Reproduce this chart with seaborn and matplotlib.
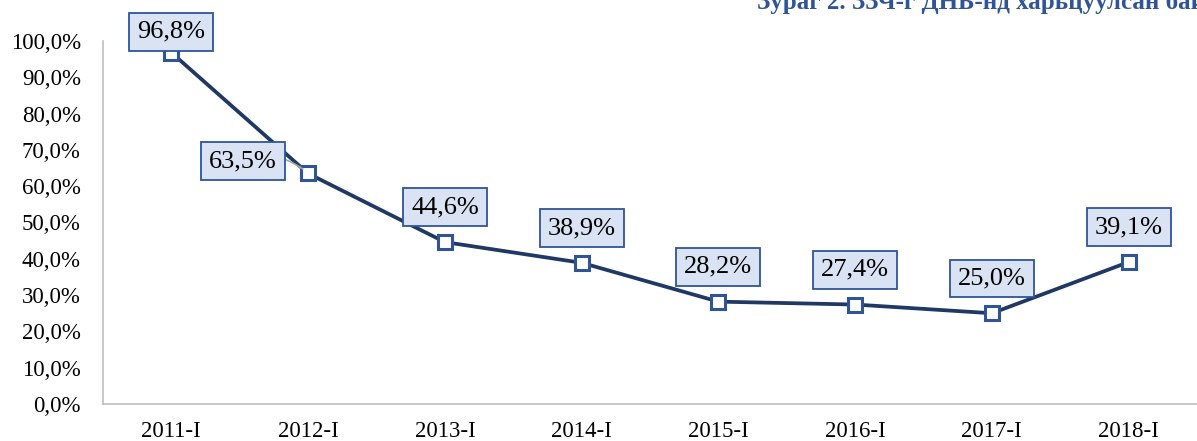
import matplotlib
matplotlib.use("Agg")
import matplotlib.pyplot as plt
import seaborn as sns
import pandas as pd
from matplotlib.ticker import FuncFormatter, FixedLocator

periods = ["2011-I", "2012-I", "2013-I", "2014-I", "2015-I", "2016-I", "2017-I", "2018-I"]
share = [96.8, 63.5, 44.6, 38.9, 28.2, 27.4, 25.0, 39.1]
title = "Зураг 2. ЗЗЧ-г ДНБ-нд харьцуулсан байдал"

LINE = "#1F3864"
EDGE = "#2F5597"
FILL = "#DAE3F3"

sns.set_theme(style="white")
plt.rcParams["font.family"] = ["Liberation Serif", "DejaVu Serif"]

df = pd.DataFrame({"period": periods, "share": share})

fig = plt.figure(figsize=(11.97, 4.41), dpi=100)
ax = fig.add_axes([103 / 1197, 37 / 441, 1094 / 1197, 363 / 441])

sns.lineplot(data=df, x="period", y="share", ax=ax, color=LINE, linewidth=2.7,
             marker="s", markersize=10, markerfacecolor="white",
             markeredgecolor=EDGE, markeredgewidth=2.2, sort=False)

ax.set_xlim(-0.5, len(periods) - 0.5)
ax.set_ylim(0, 100)
ax.set_yticks(range(0, 101, 10))
ax.yaxis.set_major_formatter(FuncFormatter(lambda v, _: f"{v:.1f}".replace(".", ",") + "%"))
ax.set_xlabel("")
ax.set_ylabel("")
ax.tick_params(axis="both", labelsize=16.5, colors="black")
ax.tick_params(axis="y", length=0, pad=16)
ax.tick_params(axis="x", length=0, pad=12)
ax.xaxis.set_minor_locator(FixedLocator([i - 0.5 for i in range(len(periods) + 1)]))
ax.tick_params(axis="x", which="minor", length=6, width=1, color="#BFBFBF", direction="out")

for s in ["top", "right"]:
    ax.spines[s].set_visible(False)
for s in ["left", "bottom"]:
    ax.spines[s].set_color("#BFBFBF")
    ax.spines[s].set_linewidth(1.2)

# label offsets in points: first one sits low on its marker, 2012-I is to the left
offsets = {0: (0, 15), 1: (-47, 9)}
for i, v in enumerate(share):
    dx, dy = offsets.get(i, (0, 25))
    txt = f"{v:.1f}".replace(".", ",") + "%"
    ax.annotate(txt, (i, v), xytext=(dx, dy), textcoords="offset points",
                ha="center", va="center", fontsize=19, color="black",
                bbox=dict(boxstyle="square,pad=0.3", fc=FILL, ec=EDGE, lw=1.3),
                arrowprops=dict(arrowstyle="-", color="#A6A6A6", lw=1.2,
                                connectionstyle="arc3,rad=-0.3",
                                shrinkA=0, shrinkB=5) if i == 1 else None,
                zorder=5)

fig.text(757 / 1197, 1 - 9 / 441, title, fontsize=18, fontweight="bold",
         color=EDGE, ha="left", va="baseline")

fig.savefig("out.png", dpi=100)
